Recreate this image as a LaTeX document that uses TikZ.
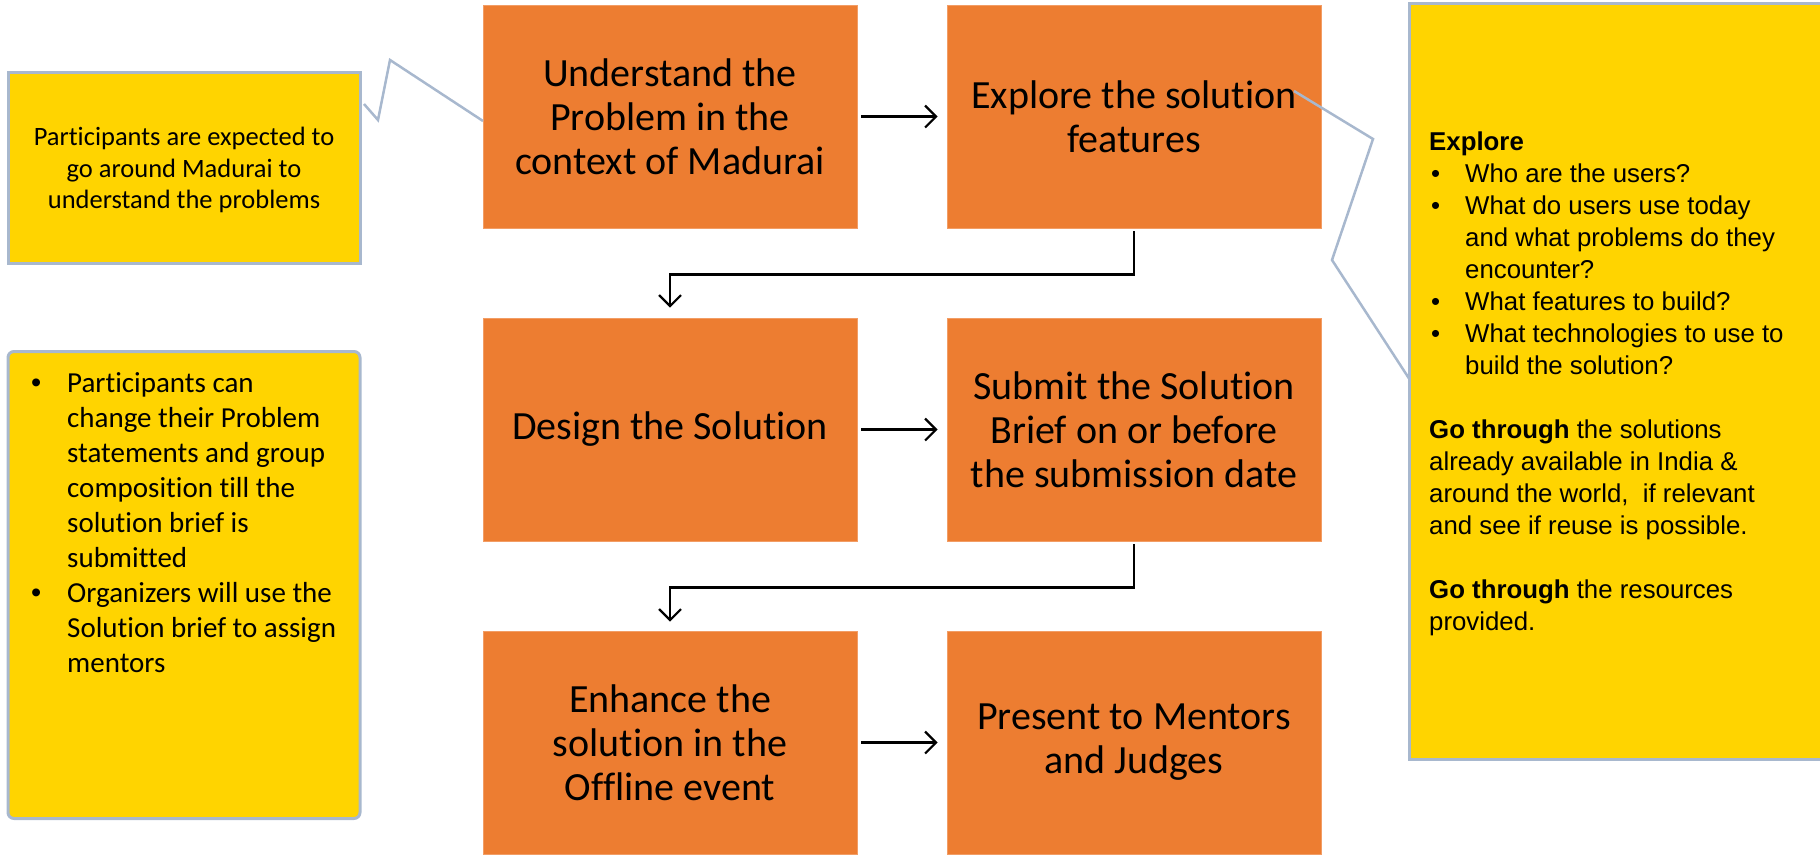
\documentclass[tikz,border=0pt]{standalone}
\usepackage{fontspec}
\setmainfont{Carlito}[Ligatures=NoCommon]
\newfontfamily\arialf{Liberation Sans}
\usetikzlibrary{arrows.meta}
\definecolor{boxorange}{RGB}{237,125,49}
\definecolor{noteyellow}{RGB}{255,212,0}
\definecolor{noteedge}{RGB}{168,184,206}
\begin{document}
\begin{tikzpicture}[x=1pt,y=-1pt,
  stepbox/.style={fill=boxorange, draw=boxorange!75!white, line width=0.8pt, minimum width=374pt, minimum height=223pt, align=center, inner sep=0pt, font=\fontsize{40}{44}\selectfont},
  flow/.style={line width=2.2pt, -{Straight Barb[length=11pt,width=22pt,line width=2.2pt]}},
  note/.style={fill=noteyellow, draw=noteedge, line width=3pt, inner sep=0pt},
  callout/.style={draw=noteedge, line width=2.5pt},
  ltxt/.style={anchor=base west, inner sep=0pt, font=\fontsize{29}{35}\selectfont},
  ctxt/.style={anchor=base, inner sep=0pt, font=\fontsize{26.5}{32}\selectfont},
  rtxt/.style={anchor=base west, inner sep=0pt, font=\arialf\fontsize{25.8}{32}\selectfont},
]
\useasboundingbox (0,0) rectangle (1820,854);

% flow boxes
\node[stepbox] (b1) at (670,116.5) {Understand the\\Problem in the\\context of Madurai};
\node[stepbox] (b2) at (1134,116.5) {Explore the solution\\features};
\node[stepbox] (b3) at (670,429.5) {Design the Solution};
\node[stepbox] (b4) at (1134,429.5) {Submit the Solution\\Brief on or before\\the submission date};
\node[stepbox] (b5) at (670,742.5) {Enhance the\\solution in the\\Offline event};
\node[stepbox] (b6) at (1134,742.5) {Present to Mentors\\and Judges};

% connectors
\draw[flow, shorten <=4pt, shorten >=9pt] (b1.east) -- (b2.west);
\draw[flow, shorten <=4pt, shorten >=9pt] (b3.east) -- (b4.west);
\draw[flow, shorten <=4pt, shorten >=9pt] (b5.east) -- (b6.west);
\draw[flow, shorten <=3pt, shorten >=10pt] (b2.south) -- ++(0,46) -| (b3.north);
\draw[flow, shorten <=3pt, shorten >=9pt] (b4.south) -- ++(0,46) -| (b5.north);

% left note 1
\node[note, minimum width=352pt, minimum height=191pt] (n1) at (184,167.5) {};
\node[ctxt] (n1a) at (184,145) {Participants are expected to};
\node[ctxt] (n1b) at (184,177) {go around Madurai to};
\node[ctxt] (n1c) at (184,208) {understand the problems};
\coordinate (c1a) at (364,104);
\coordinate (c1b) at (378,120);
\coordinate (c1c) at (390,60);
\coordinate (c1d) at (483,121);
\draw[callout] (c1a) -- (c1b) -- (c1c) -- (c1d);

% left note 2
\node[note, rounded corners=6pt, minimum width=352pt, minimum height=467pt] (n2) at (184,585) {};
\node[ltxt] (n2p1) at (31,392) {\arialf •};
\node[ltxt] (n2a) at (67,392) {Participants can};
\node[ltxt] (n2b) at (67,427) {change their Problem};
\node[ltxt] (n2c) at (67,462) {statements and group};
\node[ltxt] (n2d) at (67,497) {composition till the};
\node[ltxt] (n2e) at (67,532) {solution brief is};
\node[ltxt] (n2f) at (67,567) {submitted};
\node[ltxt] (n2p2) at (31,602) {\arialf •};
\node[ltxt] (n2g) at (67,602) {Organizers will use the};
\node[ltxt] (n2h) at (67,637) {Solution brief to assign};
\node[ltxt] (n2i) at (67,672) {mentors};

% right note
\node[note, minimum width=423pt, minimum height=756pt] (n3) at (1620.5,381) {};
\coordinate (c2a) at (1294,91);
\coordinate (c2b) at (1373,139);
\coordinate (c2c) at (1332,260);
\coordinate (c2d) at (1410,380);
\draw[callout] (c2a) -- (c2b) -- (c2c) -- (c2d);
\node[rtxt] (r1) at (1429,150) {\textbf{Explore}};
\node[rtxt] (rb1) at (1431,182) {•};
\node[rtxt] (r2) at (1465,182) {Who are the users?};
\node[rtxt] (rb2) at (1431,214) {•};
\node[rtxt] (r3) at (1465,214) {What do users use today};
\node[rtxt] (r4) at (1465,246) {and what problems do they};
\node[rtxt] (r5) at (1465,278) {encounter?};
\node[rtxt] (rb3) at (1431,310) {•};
\node[rtxt] (r6) at (1465,310) {What features to build?};
\node[rtxt] (rb4) at (1431,342) {•};
\node[rtxt] (r7) at (1465,342) {What technologies to use to};
\node[rtxt] (r8) at (1465,374) {build the solution?};
\node[rtxt] (r9) at (1429,438) {\textbf{Go through} the solutions};
\node[rtxt] (r10) at (1429,470) {already available in India \&};
\node[rtxt] (r11) at (1429,502) {around the world,\ \ if relevant};
\node[rtxt] (r12) at (1429,534) {and see if reuse is possible.};
\node[rtxt] (r13) at (1429,598) {\textbf{Go through} the resources};
\node[rtxt] (r14) at (1429,630) {provided.};
\end{tikzpicture}
\end{document}
